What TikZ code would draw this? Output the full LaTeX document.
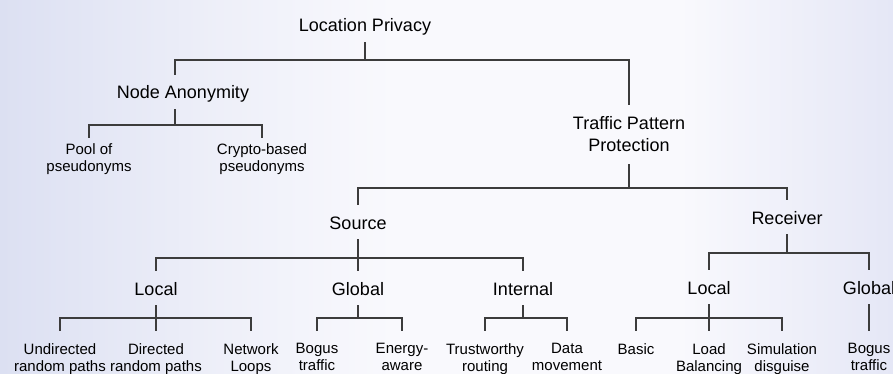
\documentclass[tikz,border=0pt]{standalone}
\usepackage{fontspec}
\setmainfont{Liberation Sans}
\definecolor{bgside}{RGB}{220,224,242}
\definecolor{bgmid}{RGB}{249,249,253}
\definecolor{bgright}{RGB}{229,231,246}
\definecolor{branchgray}{RGB}{60,60,60}
% the filled area spans 25bp..75bp of the shading
\pgfdeclarehorizontalshading{bgfade}{100bp}{
  color(0bp)=(bgside); color(25bp)=(bgside); color(37bp)=(bgmid!60!bgside);
  color(47bp)=(bgmid); color(63bp)=(bgmid); color(75bp)=(bgright); color(100bp)=(bgright)}

\begin{document}
\begin{tikzpicture}[
      x=1pt, y=-1pt,
      big/.style={font=\fontsize{18}{22}\selectfont},
      topic/.style={big, text height=18pt, text depth=4pt, inner ysep=6pt, anchor=base},
      leaf/.style={font=\fontsize{15}{17}\selectfont, align=center, inner ysep=12pt, anchor=north},
      branch/.style={draw=branchgray, line width=1.1pt}
    ]
    % Page background
    \useasboundingbox (0,0) rectangle (893,374);
    \shade[shading=bgfade] (0,0) rectangle (893,374);

    % Upper levels
    \node[topic] (lp) at (365,32) {Location Privacy};
    \node[topic] (na) at (183,99) {Node Anonymity};
    \node[big, align=center, inner ysep=12pt] (tpp) at (629,134.5) {Traffic Pattern\\Protection};
    \node[leaf, inner ysep=5pt] (pool) at (89,138) {Pool of\\pseudonyms};
    \node[leaf, inner ysep=5pt] (crypto) at (262,138) {Crypto-based\\pseudonyms};

    % Source and receiver side
    \node[topic] (src) at (358,229) {Source};
    \node[topic] (rcv) at (787,224) {Receiver};
    \node[topic] (srclocal) at (156,295) {Local};
    \node[topic] (srcglobal) at (358,295) {Global};
    \node[topic] (internal) at (523,295) {Internal};
    \node[topic] (rcvlocal) at (709,294) {Local};
    \node[topic] (rcvglobal) at (869,294) {Global};

    % Leaves
    \node[leaf] (undirected) at (60,331) {Undirected\\random paths};
    \node[leaf] (directed) at (156,331) {Directed\\random paths};
    \node[leaf] (loops) at (251,331) {Network\\Loops};
    \node[leaf] (bogus) at (317,331) {Bogus\\traffic};
    \node[leaf] (energy) at (402,331) {Energy-\\aware};
    \node[leaf] (trust) at (485,331) {Trustworthy\\routing};
    \node[leaf] (data) at (567,331) {Data\\movement};
    \node[leaf] (basic) at (636,331) {Basic};
    \node[leaf] (load) at (709,331) {Load\\Balancing};
    \node[leaf] (simulation) at (782,331) {Simulation\\disguise};
    \node[leaf] (rcvbogus) at (869,331) {Bogus\\traffic};

    % Bus points
    \coordinate (lpBus) at (365,60);
    \coordinate (naBus) at (175,125);
    \coordinate (tppBus) at (629,188);
    \coordinate (srcBus) at (358,258);
    \coordinate (rcvBus) at (787,253);
    \coordinate (srclocalBus) at (156,318);
    \coordinate (srcglobalBus) at (358,318);
    \coordinate (internalBus) at (523,318);
    \coordinate (rcvlocalBus) at (709,318);

    % Branches
    \draw[branch] (lp.south) -- (lpBus) -| ([xshift=-8pt]na.north);
    \draw[branch] (lpBus) -| (tpp.north);

    \draw[branch] ([xshift=-8pt]na.south) -- (naBus) -| (pool.north);
    \draw[branch] (naBus) -| (crypto.north);

    \draw[branch] (tpp.south) -- (tppBus) -| (src.north);
    \draw[branch] (tppBus) -| (rcv.north);

    \draw[branch] (src.south) -- (srcBus) -| (srclocal.north);
    \draw[branch] (srcBus) -- (srcglobal.north);
    \draw[branch] (srcBus) -| (internal.north);

    \draw[branch] (rcv.south) -- (rcvBus) -| (rcvlocal.north);
    \draw[branch] (rcvBus) -| (rcvglobal.north);

    \draw[branch] (srclocal.south) -- (srclocalBus) -| (undirected.north);
    \draw[branch] (srclocalBus) -- (directed.north);
    \draw[branch] (srclocalBus) -| (loops.north);

    \draw[branch] (srcglobal.south) -- (srcglobalBus) -| (bogus.north);
    \draw[branch] (srcglobalBus) -| (energy.north);

    \draw[branch] (internal.south) -- (internalBus) -| (trust.north);
    \draw[branch] (internalBus) -| (data.north);

    \draw[branch] (rcvlocal.south) -- (rcvlocalBus) -| (basic.north);
    \draw[branch] (rcvlocalBus) -- (load.north);
    \draw[branch] (rcvlocalBus) -| (simulation.north);

    \draw[branch] (rcvglobal.south) -- (rcvbogus.north);
  \end{tikzpicture}
\end{document}
